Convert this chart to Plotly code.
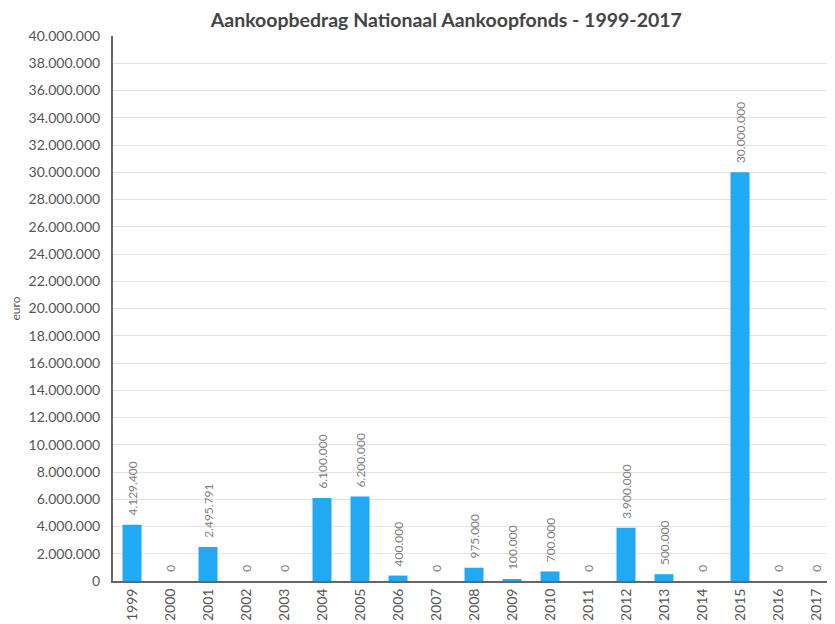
import plotly.graph_objects as go

years = ["1999", "2000", "2001", "2002", "2003", "2004", "2005", "2006", "2007", "2008",
         "2009", "2010", "2011", "2012", "2013", "2014", "2015", "2016", "2017"]
amounts = [4129400, 0, 2495791, 0, 0, 6100000, 6200000, 400000, 0, 975000,
           100000, 700000, 0, 3900000, 500000, 0, 30000000, 0, 0]

title_text = "Aankoopbedrag Nationaal Aankoopfonds - 1999-2017"
y_title = "euro"

fig = go.Figure()
fig.add_trace(go.Bar(
    x=years, y=amounts,
    marker=dict(color="#21A9F3", line=dict(width=0)),
    width=0.5,
    texttemplate="\u00a0\u00a0%{y:,.0f}",
    textposition="outside",
    textangle=-90,
    constraintext="none",
    textfont=dict(size=12, color="#808080", family="Lato"),
    cliponaxis=False,
))

fig.update_layout(
    width=827, height=616,
    separators=",.",
    paper_bgcolor="white", plot_bgcolor="white",
    margin=dict(l=105, r=0, t=28, b=43, autoexpand=False),
    title=dict(text="<b>" + title_text + "</b>", x=0.530, xanchor="center",
               y=0.9795, yref="container", yanchor="middle", pad=dict(t=0, b=0),
               font=dict(family="Lato", size=19.5, color="#444444")),
    font=dict(family="Lato", color="#555555"),
    showlegend=False,
    bargap=0.5,
)
fig.update_xaxes(
    type="category", automargin=False,
    tickangle=-90,
    tickfont=dict(size=14, color="#555555"),
    showline=True, linecolor="#666666", linewidth=2,
    showgrid=False, ticks="",
)
fig.update_yaxes(
    automargin=False,
    range=[0, 40000000], dtick=2000000, tickformat=",.0f",
    tickfont=dict(size=14, color="#555555"),
    ticklabelstandoff=8,
    showline=True, linecolor="#666666", linewidth=2,
    showgrid=True, gridcolor="#e3e3e3", gridwidth=1,
    zeroline=False, ticks="", ticklen=0,
    title=dict(text=y_title, font=dict(size=12, color="#555555"), standoff=92),
)

fig.write_html("out.html")
